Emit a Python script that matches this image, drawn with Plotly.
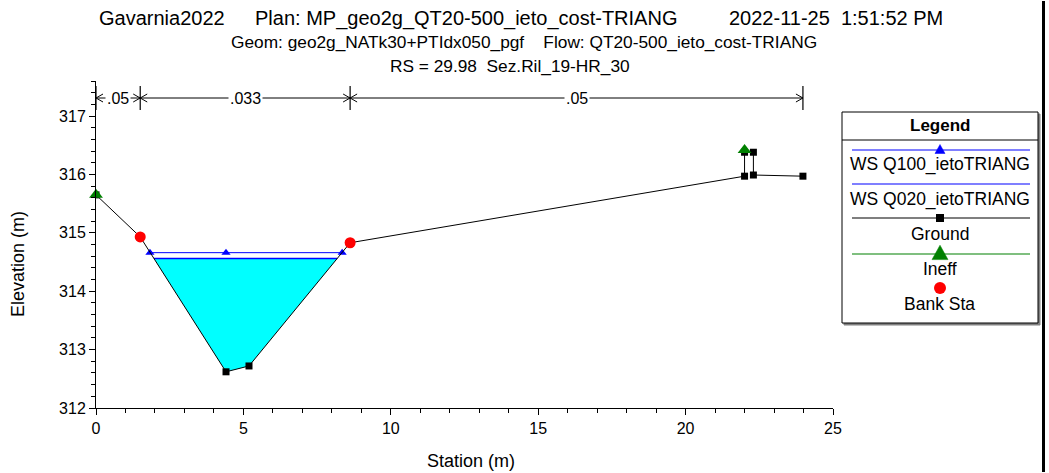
import numpy as np
import plotly.graph_objects as go

# ---------------- data ----------------
ground_x = [0.0, 1.50, 4.41, 5.19, 8.62, 22.0, 22.0, 22.3, 22.3, 23.98]
ground_y = [315.65, 314.93, 312.62, 312.72, 314.83, 315.97, 316.38, 316.38, 315.99, 315.97]

ws100_x = [1.83, 4.41, 8.35]
ws100_elev = 314.66
ws020_elev = 314.56

ineff_x = [0.0, 22.0]
ineff_y = [315.65, 316.42]

bank_x = [1.50, 8.62]
bank_y = [314.93, 314.83]

n_stations = [0.0, 1.50, 8.62, 23.98]
n_values = [".05", ".033", ".05"]

title1_parts = ["Gavarnia2022", "Plan: MP_geo2g_QT20-500_ieto_cost-TRIANG", "2022-11-25\u00a0\u00a01:51:52 PM"]
title2 = "Geom: geo2g_NATk30+PTIdx050_pgf\u00a0\u00a0\u00a0\u00a0Flow: QT20-500_ieto_cost-TRIANG"
title3 = "RS = 29.98\u00a0\u00a0Sez.Ril_19-HR_30"
x_title = "Station (m)"
y_title = "Elevation (m)"

legend_names = ["WS Q100_ietoTRIANG", "WS Q020_ietoTRIANG", "Ground", "Ineff", "Bank Sta"]

# ---------------- layout geometry (screen pixels) ----------------
SW, SH = 1049, 473
L, R, T, B = 96, 833, 81, 408
XR = [0, 25]
YR = [312, 317.6]
FONT = "Arial, Liberation Sans, sans-serif"


def px(xp):
    return (xp - L) / (R - L)


def py(yp):
    return (B - yp) / (B - T)


def dx(pix):
    return pix * (XR[1] - XR[0]) / (R - L)


def dy(pix):
    return pix * (YR[1] - YR[0]) / (B - T)


gx = np.array(ground_x)
gy = np.array(ground_y)


def crossing(i0, i1, elev):
    x0, x1, y0, y1 = gx[i0], gx[i1], gy[i0], gy[i1]
    return x0 + (elev - y0) * (x1 - x0) / (y1 - y0)


def water_polygon(elev):
    idx = [i for i in range(len(gx)) if bank_x[0] <= gx[i] <= bank_x[1]]
    pts_x, pts_y = [], []
    for k in range(len(idx) - 1):
        i0, i1 = idx[k], idx[k + 1]
        y0, y1 = gy[i0], gy[i1]
        if y0 <= elev:
            pts_x.append(gx[i0]); pts_y.append(y0)
        if (y0 - elev) * (y1 - elev) < 0:
            pts_x.append(crossing(i0, i1, elev)); pts_y.append(elev)
    i_last = idx[-1]
    if gy[i_last] <= elev:
        pts_x.append(gx[i_last]); pts_y.append(gy[i_last])
    return pts_x, pts_y


wx, wy = water_polygon(ws020_elev)

fig = go.Figure()

fig.add_trace(go.Scatter(x=wx + [wx[0]], y=wy + [wy[0]], mode="lines", fill="toself",
                         fillcolor="#00FFFF", line=dict(color="#00FFFF", width=0),
                         hoverinfo="skip", showlegend=False))
fig.add_trace(go.Scatter(x=[wx[0], wx[-1]], y=[ws020_elev, ws020_elev], mode="lines",
                         line=dict(color="#0000FF", width=1.5), name=legend_names[1], showlegend=False))
fig.add_trace(go.Scatter(x=ws100_x, y=[ws100_elev] * len(ws100_x), mode="lines+markers",
                         line=dict(color="#0000FF", width=1),
                         marker=dict(symbol="triangle-up", size=8, color="#0000FF"),
                         name=legend_names[0], showlegend=False))
fig.add_trace(go.Scatter(x=ground_x, y=ground_y, mode="lines+markers",
                         line=dict(color="black", width=1),
                         marker=dict(symbol="square", size=7, color="black"),
                         name=legend_names[2], showlegend=False))
fig.add_trace(go.Scatter(x=ineff_x, y=ineff_y, mode="markers",
                         marker=dict(symbol="triangle-up", size=12, color="#008000"),
                         name=legend_names[3], showlegend=False, cliponaxis=False))
fig.add_trace(go.Scatter(x=bank_x, y=bank_y, mode="markers",
                         marker=dict(symbol="circle", size=11, color="#FF0000"),
                         name=legend_names[4], showlegend=False))

shapes = []
annotations = []

# ---------------- Manning's n bar ----------------
n_y = YR[0] + dy(B - 98)
shapes.append(dict(type="line", xref="x", yref="y", x0=n_stations[0], x1=n_stations[-1],
                   y0=n_y, y1=n_y, line=dict(color="black", width=1)))
for i, s in enumerate(n_stations):
    shapes.append(dict(type="line", xref="x", yref="y", x0=s, x1=s,
                       y0=n_y - dy(12), y1=n_y + dy(12), line=dict(color="black", width=1.2)))
    ax, ay = dx(7), dy(4)
    if i > 0:
        shapes.append(dict(type="path", xref="x", yref="y",
                           path=f"M {s-ax} {n_y+ay} L {s} {n_y} L {s-ax} {n_y-ay}",
                           line=dict(color="black", width=1)))
    if i < len(n_stations) - 1:
        shapes.append(dict(type="path", xref="x", yref="y",
                           path=f"M {s+ax} {n_y+ay} L {s} {n_y} L {s+ax} {n_y-ay}",
                           line=dict(color="black", width=1)))
for i, v in enumerate(n_values):
    mid = (n_stations[i] + n_stations[i + 1]) / 2
    annotations.append(dict(x=mid, y=n_y, xref="x", yref="y", text=v, showarrow=False,
                            font=dict(size=16, color="black", family=FONT),
                            bgcolor="white", borderpad=1, xanchor="center", yanchor="middle"))

# ---------------- titles ----------------
for xpos, txt in zip([97, 253, 727], title1_parts):
    annotations.append(dict(x=px(xpos), y=py(18), xref="paper", yref="paper", text=txt,
                            showarrow=False, xanchor="left", yanchor="middle",
                            font=dict(size=20, color="black", family=FONT)))
annotations.append(dict(x=px(524), y=py(42), xref="paper", yref="paper", text=title2,
                        showarrow=False, xanchor="center", yanchor="middle",
                        font=dict(size=17.3, color="black", family=FONT)))
annotations.append(dict(x=px(510), y=py(66), xref="paper", yref="paper", text=title3,
                        showarrow=False, xanchor="center", yanchor="middle",
                        font=dict(size=17.3, color="black", family=FONT)))

# axis titles
annotations.append(dict(x=px(471), y=py(461), xref="paper", yref="paper", text=x_title,
                        showarrow=False, xanchor="center", yanchor="middle",
                        font=dict(size=18, color="black", family=FONT)))
annotations.append(dict(x=px(18), y=py(264), xref="paper", yref="paper", text=y_title,
                        showarrow=False, xanchor="center", yanchor="middle", textangle=-90,
                        font=dict(size=18, color="black", family=FONT)))

# ---------------- legend box ----------------
LB_L, LB_R, LB_T, LB_B = 842, 1038, 112, 323
shapes.append(dict(type="rect", xref="paper", yref="paper", x0=px(LB_L + 2), x1=px(LB_R + 2),
                   y0=py(LB_B + 2), y1=py(LB_T + 2), line=dict(color="#808080", width=1),
                   fillcolor="#808080", layer="above"))
shapes.append(dict(type="rect", xref="paper", yref="paper", x0=px(LB_L), x1=px(LB_R),
                   y0=py(LB_B), y1=py(LB_T), line=dict(color="black", width=1),
                   fillcolor="white", layer="above"))
shapes.append(dict(type="line", xref="paper", yref="paper", x0=px(LB_L), x1=px(LB_R),
                   y0=py(140), y1=py(140), line=dict(color="black", width=1), layer="above"))
annotations.append(dict(x=px(940), y=py(126), xref="paper", yref="paper", text="<b>Legend</b>",
                        showarrow=False, xanchor="center", yanchor="middle",
                        font=dict(size=17, color="black", family=FONT)))

LX0, LX1, LXC = 852, 1030, 940
leg_rows = [
    (150, "#0000FF", "triangle", 5, 164),
    (184, "#0000FF", None, 0, 199),
    (218, "black", "square", 4, 234),
    (254, "#008000", "triangle", 8, 269),
    (288, None, "circle", 6, 304),
]
for (ly, col, sym, sz, ty), name in zip(leg_rows, legend_names):
    if col is not None:
        shapes.append(dict(type="line", xref="paper", yref="paper", x0=px(LX0), x1=px(LX1),
                           y0=py(ly), y1=py(ly), line=dict(color=col, width=1.2), layer="above"))
    if sym == "triangle":
        path = (f"M {px(LXC - sz)} {py(ly + sz*0.7)} L {px(LXC + sz)} {py(ly + sz*0.7)} "
                f"L {px(LXC)} {py(ly - sz*1.1)} Z")
        shapes.append(dict(type="path", xref="paper", yref="paper", path=path,
                           fillcolor=col, line=dict(color=col, width=0.5), layer="above"))
    elif sym == "square":
        shapes.append(dict(type="rect", xref="paper", yref="paper", x0=px(LXC - sz), x1=px(LXC + sz),
                           y0=py(ly + sz), y1=py(ly - sz), fillcolor="black",
                           line=dict(color="black", width=0), layer="above"))
    elif sym == "circle":
        shapes.append(dict(type="circle", xref="paper", yref="paper", x0=px(LXC - sz), x1=px(LXC + sz),
                           y0=py(ly + sz), y1=py(ly - sz), fillcolor="#FF0000",
                           line=dict(color="#FF0000", width=0), layer="above"))
    annotations.append(dict(x=px(LXC), y=py(ty), xref="paper", yref="paper", text=name,
                            showarrow=False, xanchor="center", yanchor="middle",
                            font=dict(size=17.5, color="black", family=FONT)))

# right border of the image (filled strip)
shapes.append(dict(type="rect", xref="paper", yref="paper", x0=px(1042), x1=px(1045),
                   y0=py(1), y1=py(SH - 1), fillcolor="black", line=dict(width=0), layer="above"))

fig.update_layout(
    width=SW, height=SH,
    margin=dict(l=L, r=SW - R, t=T, b=SH - B, autoexpand=False),
    paper_bgcolor="white", plot_bgcolor="white",
    showlegend=False,
    font=dict(family=FONT, color="black", size=16),
    shapes=shapes, annotations=annotations,
    xaxis=dict(range=XR, showgrid=False, zeroline=False, showline=True, linecolor="black",
               linewidth=1, ticks="outside", ticklen=6, tickcolor="black", dtick=5, tick0=0,
               tickfont=dict(size=16, family=FONT),
               minor=dict(ticks="outside", ticklen=4, dtick=1, tickcolor="black")),
    yaxis=dict(range=YR, showgrid=False, zeroline=False, showline=True, linecolor="black",
               linewidth=1, ticks="outside", ticklen=6, tickcolor="black", dtick=1, tick0=312,
               tickfont=dict(size=16, family=FONT),
               minor=dict(ticks="outside", ticklen=4, dtick=0.2, tickcolor="black")),
)

fig.write_html("out.html", config={"displayModeBar": False},
               post_script="document.body.style.margin='0';document.body.style.overflow='hidden';")
